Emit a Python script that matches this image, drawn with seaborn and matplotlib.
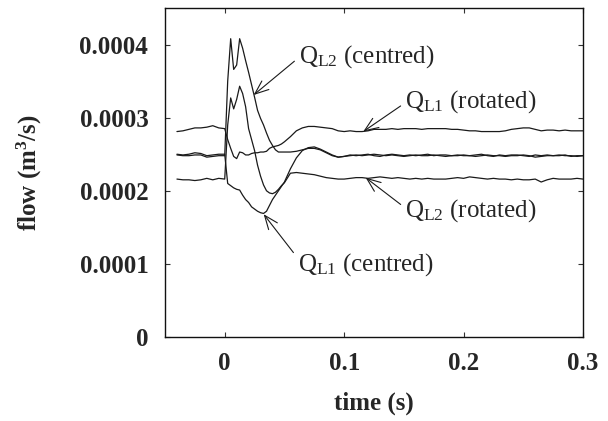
import numpy as np
import pandas as pd
import seaborn as sns
import matplotlib
matplotlib.use("Agg")
import matplotlib.pyplot as plt

# ---- data (flow values in units of 1e-4 m^3/s) ----
t_pre = [-0.04, -0.035, -0.03, -0.025, -0.02, -0.015, -0.01, -0.005, 0.0]
t_tr = [0.0025, 0.005, 0.0075, 0.01, 0.0125, 0.015, 0.0175, 0.02, 0.0225, 0.025,
        0.0275, 0.03, 0.0325, 0.035, 0.0375, 0.04, 0.0425, 0.045, 0.0475, 0.05]
t_post = list(np.round(np.arange(0.055, 0.3001, 0.005), 4))
time = np.array(t_pre + t_tr + t_post)

ql1_rot = ([2.81, 2.82, 2.84, 2.86, 2.86, 2.87, 2.89, 2.86, 2.85]
           + [2.70, 2.58, 2.47, 2.44, 2.53, 2.52, 2.49, 2.49, 2.51, 2.52,
              2.52, 2.53, 2.53, 2.54, 2.58, 2.60, 2.61, 2.62, 2.64, 2.67]
           + [2.74, 2.82, 2.86, 2.88, 2.88, 2.87, 2.86, 2.85, 2.82, 2.81,
              2.82, 2.81, 2.81, 2.82, 2.84, 2.84, 2.84, 2.85, 2.84, 2.85,
              2.85, 2.85, 2.84, 2.85, 2.85, 2.85, 2.85, 2.84, 2.84, 2.83,
              2.82, 2.82, 2.81, 2.81, 2.81, 2.81, 2.82, 2.84, 2.85, 2.86,
              2.86, 2.84, 2.82, 2.83, 2.83, 2.82, 2.83, 2.82, 2.82, 2.82])

ql2_cen = ([2.49, 2.48, 2.48, 2.49, 2.49, 2.46, 2.47, 2.48, 2.48]
           + [3.50, 4.08, 3.66, 3.72, 4.08, 3.95, 3.78, 3.62, 3.45, 3.28,
              3.10, 2.99, 2.90, 2.79, 2.69, 2.62, 2.56, 2.53, 2.53, 2.53]
           + [2.53, 2.54, 2.56, 2.58, 2.58, 2.56, 2.52, 2.48, 2.46, 2.47,
              2.48, 2.49, 2.48, 2.49, 2.50, 2.49, 2.48, 2.49, 2.48, 2.47,
              2.48, 2.49, 2.48, 2.48, 2.49, 2.48, 2.47, 2.48, 2.49, 2.48,
              2.48, 2.47, 2.48, 2.49, 2.48, 2.48, 2.47, 2.48, 2.48, 2.49,
              2.48, 2.46, 2.47, 2.48, 2.48, 2.49, 2.48, 2.48, 2.47, 2.48])

ql1_cen = ([2.50, 2.49, 2.50, 2.52, 2.51, 2.48, 2.49, 2.50, 2.50]
           + [2.10, 2.07, 2.04, 2.02, 2.01, 1.94, 1.88, 1.84, 1.78, 1.75,
              1.72, 1.70, 1.69, 1.72, 1.80, 1.88, 1.94, 2.00, 2.06, 2.12]
           + [2.30, 2.45, 2.55, 2.59, 2.60, 2.57, 2.53, 2.49, 2.46, 2.47,
              2.49, 2.48, 2.49, 2.50, 2.48, 2.47, 2.49, 2.50, 2.49, 2.48,
              2.49, 2.48, 2.49, 2.50, 2.48, 2.49, 2.49, 2.48, 2.48, 2.49,
              2.48, 2.49, 2.50, 2.48, 2.47, 2.49, 2.48, 2.49, 2.49, 2.48,
              2.47, 2.49, 2.48, 2.49, 2.48, 2.48, 2.49, 2.47, 2.48, 2.48])

ql2_rot = ([2.16, 2.15, 2.15, 2.14, 2.15, 2.17, 2.15, 2.17, 2.16]
           + [2.90, 3.27, 3.12, 3.25, 3.43, 3.33, 3.15, 2.85, 2.70, 2.55,
              2.35, 2.20, 2.08, 2.00, 1.97, 1.96, 1.98, 2.02, 2.07, 2.11]
           + [2.24, 2.25, 2.24, 2.23, 2.22, 2.20, 2.18, 2.17, 2.16, 2.16,
              2.17, 2.18, 2.18, 2.17, 2.18, 2.19, 2.18, 2.17, 2.18, 2.17,
              2.16, 2.17, 2.16, 2.17, 2.16, 2.16, 2.16, 2.17, 2.18, 2.17,
              2.19, 2.18, 2.17, 2.16, 2.17, 2.16, 2.16, 2.15, 2.16, 2.15,
              2.15, 2.16, 2.12, 2.15, 2.17, 2.16, 2.16, 2.16, 2.17, 2.16])

series_names = ["QL1 (rotated)", "QL2 (centred)", "QL1 (centred)", "QL2 (rotated)"]
series_vals = [ql1_rot, ql2_cen, ql1_cen, ql2_rot]

y_ticks = [0, 0.0001, 0.0002, 0.0003, 0.0004]
y_tick_labels = ["0", "0.0001", "0.0002", "0.0003", "0.0004"]
x_ticks = [0, 0.1, 0.2, 0.3]
x_tick_labels = ["0", "0.1", "0.2", "0.3"]

# annotation: label text, arrow target (t, flow), text position (t, flow), relpos
ann_labels = [r"Q$_{\mathrm{L2}}$ (centred)", r"Q$_{\mathrm{L1}}$ (rotated)",
              r"Q$_{\mathrm{L2}}$ (rotated)", r"Q$_{\mathrm{L1}}$ (centred)"]
ann_xy = [(0.0242, 0.000331), (0.116, 0.000281), (0.118, 0.000218), (0.0326, 0.000168)]
ann_text = [(0.062, 0.000384), (0.151, 0.000322), (0.151, 0.000173), (0.061, 0.000099)]
ann_rel = [(0, 0.45), (0, 0.45), (0, 0.6), (0, 0.75)]

df = pd.DataFrame({
    "time": np.tile(time, len(series_names)),
    "flow": np.concatenate([np.array(v) * 1e-4 for v in series_vals]),
    "series": np.repeat(series_names, len(time)),
})

# ---- style ----
sns.set_style("ticks")
plt.rcParams["font.family"] = ["Liberation Serif", "DejaVu Serif"]
plt.rcParams["mathtext.fontset"] = "custom"
plt.rcParams["mathtext.rm"] = "Liberation Serif"
plt.rcParams["mathtext.it"] = "Liberation Serif:italic"
plt.rcParams["mathtext.bf"] = "Liberation Serif:bold"

fig = plt.figure(figsize=(6.08, 4.21), dpi=100)
ax = fig.add_axes([165 / 608, (421 - 337) / 421, 418 / 608, 329 / 421])

sns.lineplot(data=df, x="time", y="flow", units="series", estimator=None,
             color="#1a1a1a", lw=0.9, ax=ax, legend=False)

ax.set_xlim(-0.05, 0.3)
ax.set_ylim(0, 0.00045)
ax.set_xticks(x_ticks)
ax.set_xticklabels(x_tick_labels)
ax.set_yticks(y_ticks)
ax.set_yticklabels(y_tick_labels)
ax.tick_params(direction="in", top=True, right=True, length=3.8, width=0.8,
               labelsize=18, color="#333333")
ax.tick_params(axis="x", pad=11)
ax.tick_params(axis="y", pad=12)
for lab in ax.get_xticklabels() + ax.get_yticklabels():
    lab.set_fontweight("bold")
for sp in ax.spines.values():
    sp.set_visible(True)
    sp.set_linewidth(1.0)
    sp.set_color("#111111")

ax.set_xlabel("time (s)", fontsize=18, fontweight="bold")
ax.set_ylabel(r"flow (m$^{\mathbf{3}}$/s)", fontsize=18, fontweight="bold")
ax.xaxis.set_label_coords(0.5, -0.165)
ax.yaxis.set_label_coords(-0.29, 0.5)

for lab, xy, xt, rp in zip(ann_labels, ann_xy, ann_text, ann_rel):
    ax.annotate(lab, xy=xy, xytext=xt, fontsize=18, ha="left", va="center",
                arrowprops=dict(arrowstyle="->,head_length=0.55,head_width=0.22",
                                color="#1a1a1a", lw=0.8, relpos=rp,
                                shrinkA=1, shrinkB=0))

fig.savefig("out.png", dpi=100)
